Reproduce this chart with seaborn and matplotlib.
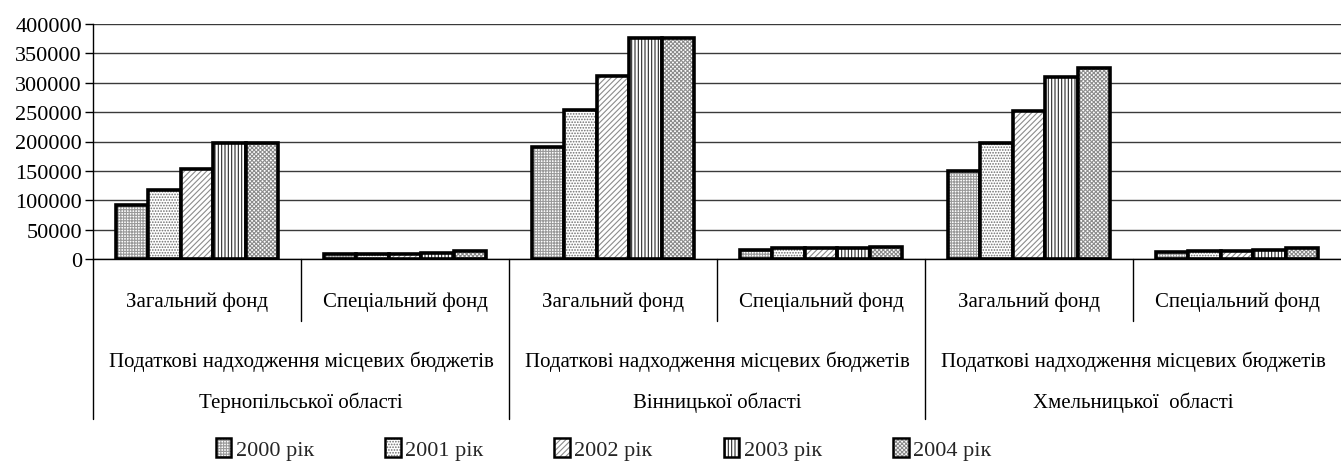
import numpy as np
import pandas as pd
import seaborn as sns
import matplotlib.pyplot as plt
import matplotlib.patches as mpatches
from matplotlib.colors import to_rgba

# ---- data -------------------------------------------------------------
regions = ["Тернопільської області", "Вінницької області", "Хмельницької  області"]
funds = ["Загальний фонд", "Спеціальний фонд"]
years = ["2000 рік", "2001 рік", "2002 рік", "2003 рік", "2004 рік"]
heading = "Податкові надходження місцевих бюджетів"

ternopil_general = [92000, 118000, 154000, 197000, 197000]
ternopil_special = [8000, 9000, 9000, 11000, 13000]
vinnytsia_general = [191000, 253000, 311000, 377000, 377000]
vinnytsia_special = [16000, 18000, 18000, 18000, 20000]
khmel_general = [149000, 197000, 252000, 310000, 325000]
khmel_special = [12000, 13000, 14000, 15000, 19000]

series = [
    (regions[0], funds[0], ternopil_general),
    (regions[0], funds[1], ternopil_special),
    (regions[1], funds[0], vinnytsia_general),
    (regions[1], funds[1], vinnytsia_special),
    (regions[2], funds[0], khmel_general),
    (regions[2], funds[1], khmel_special),
]

rows = []
cats = []
for reg, fund, vals in series:
    cat = f"{reg}|{fund}"
    cats.append(cat)
    for yr, v in zip(years, vals):
        rows.append({"cat": cat, "year": yr, "value": v})
df = pd.DataFrame(rows)

# ---- styling ----------------------------------------------------------
sns.set_theme(style="white")
plt.rcParams["font.family"] = ["Liberation Serif", "DejaVu Serif"]
plt.rcParams["hatch.linewidth"] = 0.8

hatches = ["++++++", "......", "//////", "|||||", "xxxxxxxx"]
hatch_cols = ["#9a9a9a", "#6e6e6e", "#8c8c8c", "#2a2a2a", "#8c8c8c"]


def paint_hatch(patch, color):
    if hasattr(patch, "set_hatchcolor"):
        patch.set_hatchcolor(color)
    else:
        patch._hatch_color = to_rgba(color)


W, H = 1341, 464
fig = plt.figure(figsize=(W / 100, H / 100), dpi=100)
ax = fig.add_axes([93 / W, 1 - 260 / H, 1 - 93 / W, 235 / H])

bar_w = 0.78
sns.barplot(data=df, x="cat", y="value", hue="year", order=cats,
            hue_order=years, palette=["white"] * 5, saturation=1,
            width=bar_w, edgecolor="black", linewidth=2.6,
            errorbar=None, legend=False, ax=ax, zorder=3)

step = bar_w / len(years)
for p in ax.patches:
    xc = p.get_x() + p.get_width() / 2
    k = int(round((xc - round(xc)) / step + (len(years) - 1) / 2))
    k = min(max(k, 0), len(years) - 1)
    p.set_hatch(hatches[k])
    paint_hatch(p, hatch_cols[k])

# ---- axes -------------------------------------------------------------
ax.set_xlim(-0.5, len(cats) - 0.5)
ax.set_ylim(0, 400000)
ax.set_yticks(np.arange(0, 400001, 50000))
ax.set_yticklabels([f"{int(v)}" for v in np.arange(0, 400001, 50000)])
ax.yaxis.grid(True, color="#3a3a3a", lw=1)
ax.set_axisbelow(True)
ax.set_xlabel("")
ax.set_ylabel("")
ax.tick_params(axis="y", length=6, width=1, color="black", labelsize=16,
               pad=2, direction="out", left=True, labelcolor="black")
ax.tick_params(axis="x", length=0, labelbottom=False)
for s in ["top", "right"]:
    ax.spines[s].set_visible(False)
for s in ["left", "bottom"]:
    ax.spines[s].set_color("black")
    ax.spines[s].set_linewidth(1)

# two-level category axis
trans = ax.get_xaxis_transform()
short_y = -62 / 235
long_y = -160 / 235
for x in [0.5, 2.5, 4.5]:
    ax.plot([x, x], [0, short_y], transform=trans, clip_on=False,
            color="black", lw=1)
for x in [-0.5, 1.5, 3.5]:
    ax.plot([x, x], [0, long_y], transform=trans, clip_on=False,
            color="black", lw=1)

for i, cat in enumerate(cats):
    fund = cat.split("|")[1]
    ax.text(i, -42 / 235, fund, transform=trans, ha="center", va="center",
            fontsize=15, color="black")

for j, reg in enumerate(regions):
    xc = 2 * j + 0.5
    ax.text(xc, -102 / 235, heading, transform=trans, ha="center",
            va="center", fontsize=15, color="black")
    ax.text(xc, -143 / 235, reg, transform=trans, ha="center",
            va="center", fontsize=15, color="black")

# legend
handles = []
for h, c in zip(hatches, hatch_cols):
    hp = mpatches.Patch(facecolor="white", edgecolor="black", hatch=h, lw=1.8)
    paint_hatch(hp, c)
    handles.append(hp)
fig.legend(handles, years, ncol=5, loc="center",
           bbox_to_anchor=(0.45, 1 - 450 / H), frameon=False, fontsize=16,
           handlelength=0.7, handleheight=0.9, handletextpad=0.2,
           columnspacing=3.2, borderaxespad=0)

fig.savefig("out.png", dpi=100)
